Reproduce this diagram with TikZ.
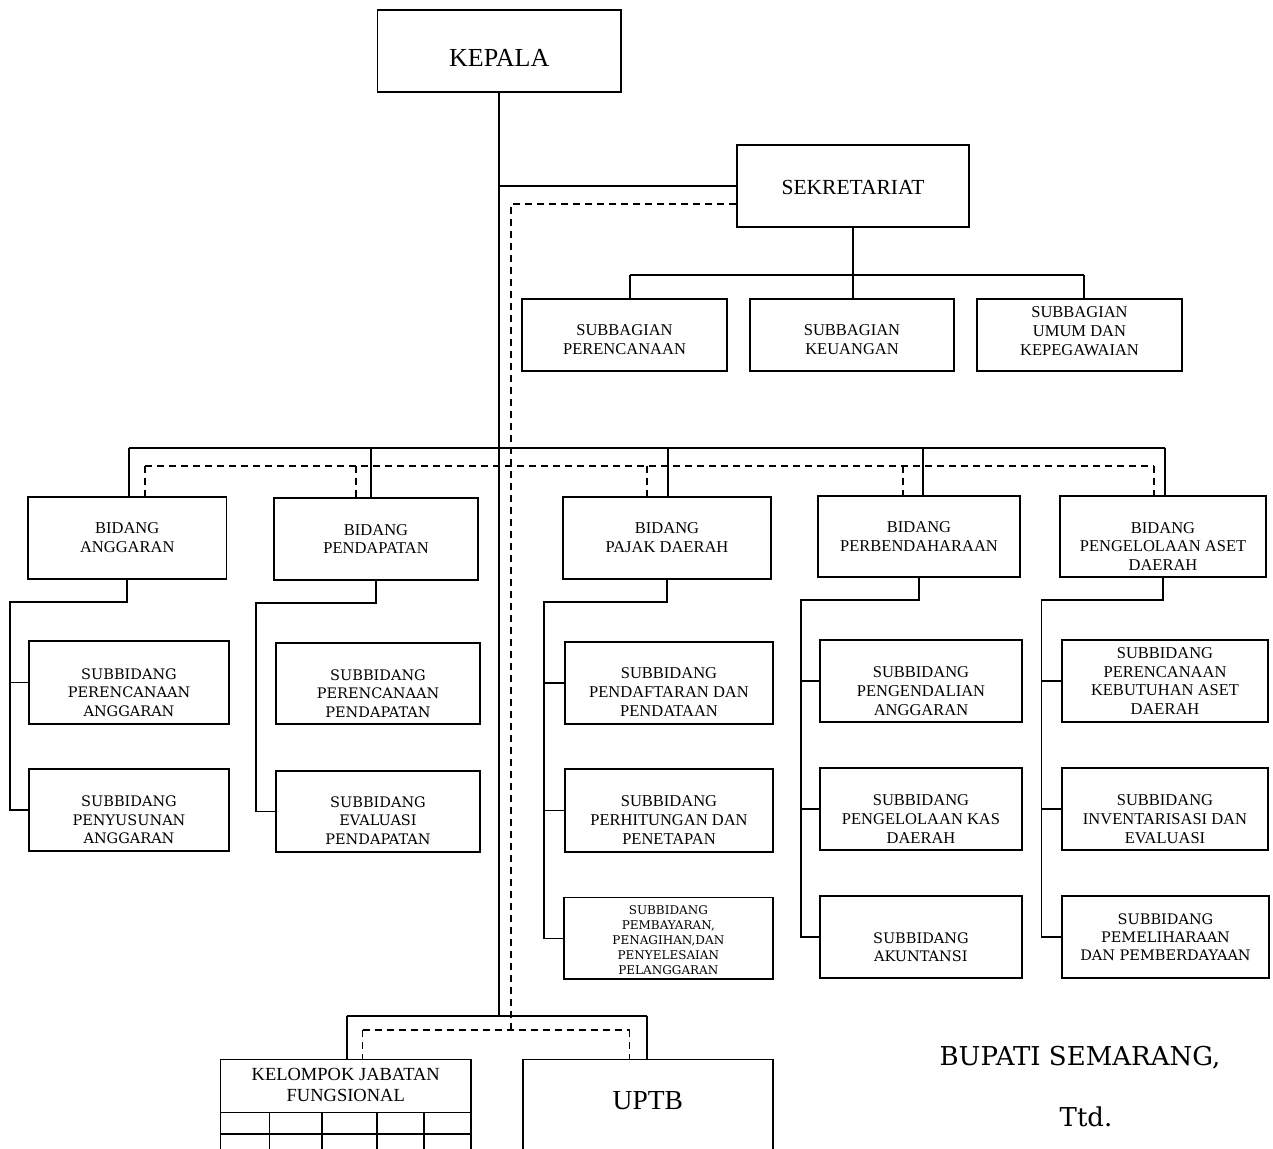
\documentclass[tikz,border=0pt]{standalone}
\usepackage{fontspec}
\setmainfont{Liberation Serif}
\newfontfamily\bkfont{DejaVu Serif}
\begin{document}
\begin{tikzpicture}[x=1pt,y=-1pt,
  box/.style={draw, line width=1.8pt, inner sep=0pt},
  ln/.style={line width=1.8pt},
  dsh/.style={line width=1.8pt, dash pattern=on 7pt off 5pt},
  cn/.style={font=\fontsize{16.5}{18.8}\selectfont, align=center, inner sep=0pt},
  bk/.style={font=\bkfont\fontsize{14.5}{18.4}\selectfont, align=center, inner sep=0pt},
  bks/.style={font=\bkfont\fontsize{12}{15}\selectfont, align=center, inner sep=0pt}]
\clip (0,0) rectangle (1273,1148);
\fill[white] (0,0) rectangle (1273,1148);
\newcommand\bxc[5]{%
  \pgfmathsetmacro\bxcx{(#2+#4)/2}\pgfmathsetmacro\bxcy{(#3+#5)/2}%
  \pgfmathsetmacro\bxw{#4-#2}\pgfmathsetmacro\bxh{#5-#3}%
  \node[box, minimum width=\bxw pt, minimum height=\bxh pt] (#1) at (\bxcx,\bxcy) {};}
% boxes
\bxc{kepala}{377.5}{10}{621}{92}
\bxc{sekr}{737}{145}{969}{227}
\bxc{sb1}{522}{299}{727}{371}
\bxc{sb2}{750}{299}{954}{371}
\bxc{sb3}{977}{299}{1182}{371}
\bxc{b1}{28}{497}{226.5}{579}
\bxc{b2}{274}{498}{478}{580}
\bxc{b3}{563}{497}{771}{579}
\bxc{b4}{818}{496}{1020}{577}
\bxc{b5}{1060}{496}{1266}{577}
\bxc{s11}{29}{641}{229}{724}
\bxc{s12}{29}{769}{229}{851}
\bxc{s21}{276}{643}{480}{724}
\bxc{s22}{276}{771}{480}{852}
\bxc{s31}{565}{642}{773}{724}
\bxc{s32}{565}{769}{773}{852}
\bxc{s33}{564}{897.5}{772.7}{979.3}
\bxc{s41}{820}{640}{1022}{722}
\bxc{s42}{820}{768}{1022}{850}
\bxc{s43}{820}{896}{1021.7}{978.3}
\bxc{s51}{1062}{640}{1268}{722}
\bxc{s52}{1062}{768}{1268}{850}
\bxc{s53}{1062}{896}{1269}{978.3}
\bxc{kjf}{220.5}{1059.5}{471}{1175}
\bxc{uptb}{522.6}{1059.5}{773}{1175}
% texts
\node[cn, font=\fontsize{26}{28}\selectfont] (kepalaT) at ([yshift=-7pt]kepala.center) {KEPALA};
\node[cn, font=\fontsize{21.5}{24}\selectfont] (sekrT) at ([yshift=-1pt]sekr.center) {SEKRETARIAT};
\node[cn] (sb1T) at ([yshift=-5pt]sb1.center) {SUBBAGIAN\\PERENCANAAN};
\node[cn] (sb2T) at ([yshift=-5pt]sb2.center) {SUBBAGIAN\\KEUANGAN};
\node[cn] (sb3T) at ([yshift=4pt]sb3.center) {SUBBAGIAN\\UMUM DAN\\KEPEGAWAIAN};
\node[cn] (b1T) at (b1.center) {BIDANG\\ANGGARAN};
\node[cn] (b2T) at (b2.center) {BIDANG\\PENDAPATAN};
\node[cn] (b3T) at (b3.center) {BIDANG\\PAJAK DAERAH};
\node[cn] (b4T) at (b4.center) {BIDANG\\PERBENDAHARAAN};
\node[cn] (b5T) at ([yshift=-10pt]b5.center) {BIDANG\\PENGELOLAAN ASET\\DAERAH};
\node[bk] (s11T) at ([yshift=-10pt]s11.center) {SUBBIDANG\\PERENCANAAN\\ANGGARAN};
\node[bk] (s12T) at ([yshift=-10pt]s12.center) {SUBBIDANG\\PENYUSUNAN\\ANGGARAN};
\node[bk] (s21T) at ([yshift=-10pt]s21.center) {SUBBIDANG\\PERENCANAAN\\PENDAPATAN};
\node[bk] (s22T) at ([yshift=-9pt]s22.center) {SUBBIDANG\\EVALUASI\\PENDAPATAN};
\node[cn] (s31T) at ([yshift=-9pt]s31.center) {SUBBIDANG\\PENDAFTARAN DAN\\PENDATAAN};
\node[cn] (s32T) at ([yshift=-9.5pt]s32.center) {SUBBIDANG\\PERHITUNGAN DAN\\PENETAPAN};
\node[bks] (s33T) at ([yshift=-1.5pt]s33.center) {SUBBIDANG\\PEMBAYARAN,\\PENAGIHAN,DAN\\PENYELESAIAN\\PELANGGARAN};
\node[cn] (s41T) at ([yshift=-10pt]s41.center) {SUBBIDANG\\PENGENDALIAN\\ANGGARAN};
\node[cn] (s42T) at ([yshift=-10pt]s42.center) {SUBBIDANG\\PENGELOLAAN KAS\\DAERAH};
\node[bk] (s43T) at ([yshift=-10pt]s43.center) {SUBBIDANG\\AKUNTANSI};
\node[cn] (s51T) at (s51.center) {SUBBIDANG\\PERENCANAAN\\KEBUTUHAN ASET\\DAERAH};
\node[cn] (s52T) at ([yshift=-10pt]s52.center) {SUBBIDANG\\INVENTARISASI DAN\\EVALUASI};
\node[bk] (s53T) at (s53.center) {SUBBIDANG\\PEMELIHARAAN\\DAN PEMBERDAYAAN};
\node[cn, font=\fontsize{18.5}{20.5}\selectfont] (kjfT) at (345.75,1085) {KELOMPOK JABATAN\\FUNGSIONAL};
\node[cn, font=\fontsize{27.5}{30}\selectfont] (uptbT) at (647.8,1100.8) {UPTB};
\node[inner sep=0pt, anchor=base, font=\bkfont\fontsize{26}{30}\selectfont] (bupati) at (1080,1065.7) {BUPATI SEMARANG,};
\node[inner sep=0pt, anchor=base, font=\bkfont\fontsize{26}{30}\selectfont] (ttd) at (1086,1126.7) {Ttd.};
% KJF grid
\draw[ln] (kjf.west |- 0,1112.5) -- (kjf.east |- 0,1112.5);
\draw[ln] (kjf.west |- 0,1134.3) -- (kjf.east |- 0,1134.3);
\foreach \gx in {269.5,321.7,376.7,423.6} \draw[ln] (\gx,1112.5) -- (\gx,1175);
% coordinates
\coordinate (sbL) at (629.6,275);
\coordinate (sbR) at (1084,275);
\coordinate (bbL) at (129,447.7);
\coordinate (bbR) at (1164.8,447.7);
\coordinate (dbL) at (145,465.7);
\coordinate (dbR) at (1154,465.7);
\coordinate (dA) at (511,204);
\coordinate (dZ) at (511,1030);
\coordinate (kbL) at (346.6,1016);
\coordinate (kbR) at (647,1016);
\coordinate (kdL) at (362.5,1030);
\coordinate (kdR) at (629.5,1030);
\coordinate (c1) at (10,601.7);
\coordinate (c2) at (256,602.7);
\coordinate (c3) at (544,601.7);
\coordinate (c4) at (800.7,600);
\coordinate (c5) at (1041.5,600);
% solid main lines
\draw[ln] (kepala.south) -- (kepala.south |- kbL);
\draw[ln] (kepala.south |- sekr.west) -- (sekr.west);
\draw[ln] (sekr.south) -- (sekr.south |- sbL);
\draw[ln] (sbL) -- (sbR);
\draw[ln] (sbL) -- (sbL |- sb1.north);
\draw[ln] (sekr.south |- sbL) -- (sekr.south |- sb2.north);
\draw[ln] (sbR) -- (sbR |- sb3.north);
\draw[ln] (bbL) -- (bbR);
\foreach \n/\xx in {b1/129,b2/371,b3/668,b4/922.6,b5/1164.8}
  \draw[ln] (\xx,447.7) -- (\xx,447.7 |- \n.north);
% dashed lines
\draw[dsh] (sekr.west |- dA) -- (dA) -- (dZ);
\draw[dsh] (dbL) -- (dbR);
\foreach \n/\xx in {b1/145,b2/356,b3/647,b4/902.8,b5/1154}
  \draw[dsh] (\xx,465.7) -- (\xx,465.7 |- \n.north);
% sub-trees
\draw[ln] (b1.south) |- (c1) -- (c1 |- s12.west) -- (s12.west);
\draw[ln] (c1 |- s11.west) -- (s11.west);
\draw[ln] (b2.south) |- (c2) -- (c2 |- s22.west) -- (s22.west);
\draw[ln] (b3.south) |- (c3) -- (c3 |- s33.west) -- (s33.west);
\draw[ln] (c3 |- s31.west) -- (s31.west);
\draw[ln] (c3 |- s32.west) -- (s32.west);
\draw[ln] (b4.south) |- (c4) -- (c4 |- s43.west) -- (s43.west);
\draw[ln] (c4 |- s41.west) -- (s41.west);
\draw[ln] (c4 |- s42.west) -- (s42.west);
\draw[ln] (b5.south) |- (c5) -- (c5 |- s53.west) -- (s53.west);
\draw[ln] (c5 |- s51.west) -- (s51.west);
\draw[ln] (c5 |- s52.west) -- (s52.west);
% bottom
\draw[ln] (kbL) -- (kbR);
\draw[ln] (kbL) -- (kbL |- kjf.north);
\draw[ln] (kbR) -- (kbR |- uptb.north);
\draw[dsh] (kdL) -- (kdR);
\draw[dsh] (kdL) -- (kdL |- kjf.north);
\draw[dsh] (kdR) -- (kdR |- uptb.north);
\end{tikzpicture}
\end{document}
